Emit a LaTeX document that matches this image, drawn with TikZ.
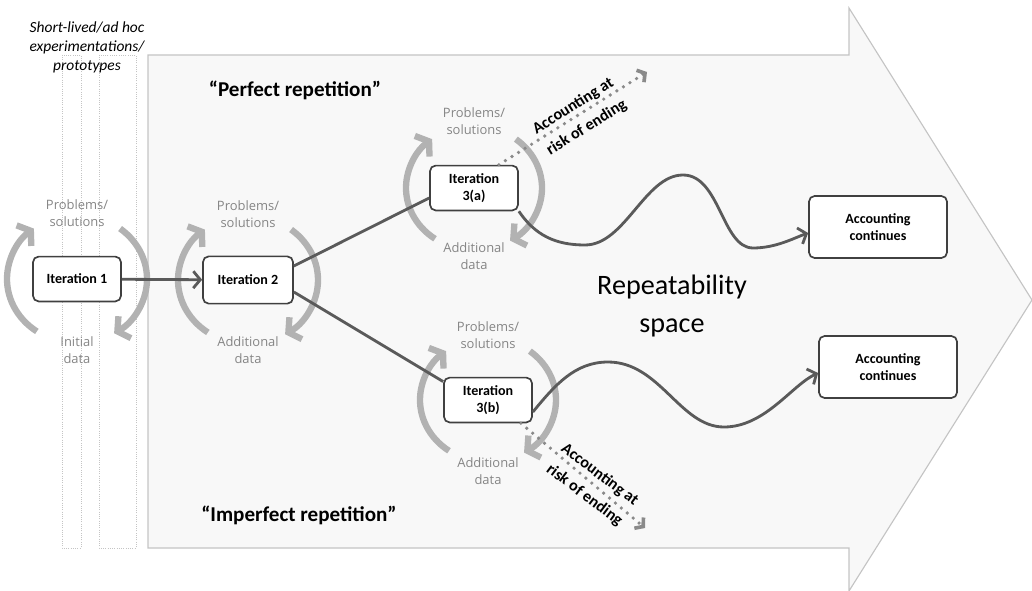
\documentclass[tikz,border=0pt]{standalone}
\usepackage{fontspec}
\setmainfont{Carlito}
\newfontfamily\labfont{Open Sans}
\usetikzlibrary{arrows.meta,positioning}

\definecolor{boxline}{HTML}{404040}
\definecolor{linkgray}{HTML}{5A5A5A}
\definecolor{cyclegray}{HTML}{B2B2B2}
\definecolor{labgray}{HTML}{858585}
\definecolor{dotgray}{HTML}{8A8A8A}
\definecolor{spacefill}{HTML}{F8F8F8}
\definecolor{spaceline}{HTML}{C4C4C4}

\begin{document}
\begin{tikzpicture}[x=0.025cm,y=-0.025cm,
	iterbox/.style={draw=boxline,line width=1.2pt,rounded corners=4pt,fill=white,
		minimum width=2.2cm,minimum height=1.12cm,align=center,
		font=\fontsize{10}{12}\selectfont\bfseries},
	accbox/.style={iterbox,minimum width=3.45cm,minimum height=1.55cm},
	lab/.style={align=center,text=labgray,font=\labfont\fontsize{9.2}{12.5}\selectfont},
	cyc/.style={draw=cyclegray,line width=4.5pt,-{Straight Barb[length=6pt,width=18pt]}},
	link/.style={draw=linkgray,line width=2pt},
	risk/.style={draw=dotgray,line width=2.6pt,line cap=round,dash pattern=on 0pt off 5.5pt,
		-{Straight Barb[length=4pt,width=10pt]}},
	risklab/.style={align=center,font=\fontsize{11.5}{13}\selectfont\bfseries},
	strip/.style={draw=spaceline,densely dotted,line width=0.6pt}
]
\useasboundingbox (0,0) rectangle (1032,591);

% repeatability space
\draw[spaceline,fill=spacefill,line width=0.8pt] (148,55) -- (849,55) -- (849,8) -- (1032,300)
	-- (849,591) -- (849,548) -- (148,548) -- cycle;
\draw[strip] (62,55) rectangle (81,548);
\draw[strip] (99,55) rectangle (136,548);

\node[align=center,font=\fontsize{11}{13.5}\selectfont\itshape] (proto) at (87,47)
	{Short-lived/ad hoc\\experimentations/\\prototypes};
\node[font=\fontsize{15}{18}\selectfont\bfseries] (perf) at (295,90) {“Perfect repetition”};
\node[font=\fontsize{15}{18}\selectfont\bfseries] (imperf) at (299,515) {“Imperfect repetition”};
\node[align=center,font=\fontsize{20}{27}\selectfont] (space) at (672,306) {Repeatability\\space};

% iterations
\node[iterbox] (it1) at (77,279) {Iteration 1};
\node[iterbox,minimum width=2.25cm,minimum height=1.18cm] (it2) at (248,280) {Iteration 2};
\node[iterbox] (it3a) at (474,188) {Iteration\\3(a)};
\node[iterbox] (it3b) at (488,400) {Iteration\\3(b)};
\node[accbox] (acca) at (878,227) {Accounting\\continues};
\node[accbox] (accb) at (888,367) {Accounting\\continues};

% problems / data cycles
\node[lab] (p1) at ([yshift=1.65cm]it1.center) {Problems/\\solutions};
\node[lab] (d1) at ([yshift=-1.78cm]it1.center) {Initial\\data};
\node[lab] (p2) at ([yshift=1.65cm]it2.center) {Problems/\\solutions};
\node[lab] (d2) at ([yshift=-1.75cm]it2.center) {Additional\\data};
\node[lab] (p3a) at ([yshift=1.67cm]it3a.center) {Problems/\\solutions};
\node[lab] (d3a) at ([yshift=-1.7cm]it3a.center) {Additional\\data};
\node[lab] (p3b) at ([yshift=1.62cm]it3b.center) {Problems/\\solutions};
\node[lab] (d3b) at ([yshift=-1.78cm]it3b.center) {Additional\\data};

\draw[cyc] (it1.center) ++(125:70 and 64) arc[start angle=125,end angle=232,x radius=70,y radius=64];
\draw[cyc] (it1.center) ++(-52:70 and 64) arc[start angle=-52,end angle=58,x radius=70,y radius=64];
\draw[cyc] (it2.center) ++(125:70 and 64) arc[start angle=125,end angle=232,x radius=70,y radius=64];
\draw[cyc] (it2.center) ++(-52:70 and 64) arc[start angle=-52,end angle=58,x radius=70,y radius=64];
\draw[cyc] (it3a.center) ++(125:68 and 62) arc[start angle=125,end angle=232,x radius=68,y radius=62];
\draw[cyc] (it3a.center) ++(-52:68 and 62) arc[start angle=-52,end angle=58,x radius=68,y radius=62];
\draw[cyc] (it3b.center) ++(125:68 and 62) arc[start angle=125,end angle=232,x radius=68,y radius=62];
\draw[cyc] (it3b.center) ++(-52:68 and 62) arc[start angle=-52,end angle=58,x radius=68,y radius=62];

% paths
\draw[link,-{Straight Barb[length=5pt,width=12pt]}] (it1) -- (it2);
\draw[link] ([yshift=0.35cm]it2.east) -- ([yshift=-0.25cm]it3a.west);
\draw[link] ([yshift=-0.3cm]it2.east) -- ([yshift=-0.12cm]it3b.north west);

\draw[link,-{Straight Barb[length=5pt,width=12pt]}] (it3a.south east)
	.. controls (535,235) and (555,245) .. (585,245)
	.. controls (625,245) and (645,175) .. (683,175)
	.. controls (720,175) and (722,248) .. (753,248)
	.. controls (776,248) and (794,238) .. ([yshift=-0.15cm]acca.west);
\draw[link,-{Straight Barb[length=5pt,width=12pt]}] ([yshift=-0.3cm]it3b.east)
	.. controls (555,385) and (575,362) .. (608,362)
	.. controls (660,362) and (680,427) .. (724,427)
	.. controls (765,427) and (792,385) .. ([yshift=-0.15cm]accb.west);

% risk of ending
\coordinate (riska) at (647,72);
\coordinate (riskb) at (645,528);
\draw[risk] ([xshift=-0.5cm]it3a.north east) -- (riska);
\draw[risk] ([xshift=-0.3cm]it3b.south east) -- (riskb);
\node[risklab,rotate=32] (ra) at (580,117) {Accounting at\\[5pt]risk of ending};
\node[risklab,rotate=-37] (rb) at (592,485) {Accounting at\\[5pt]risk of ending};
\end{tikzpicture}
\end{document}
